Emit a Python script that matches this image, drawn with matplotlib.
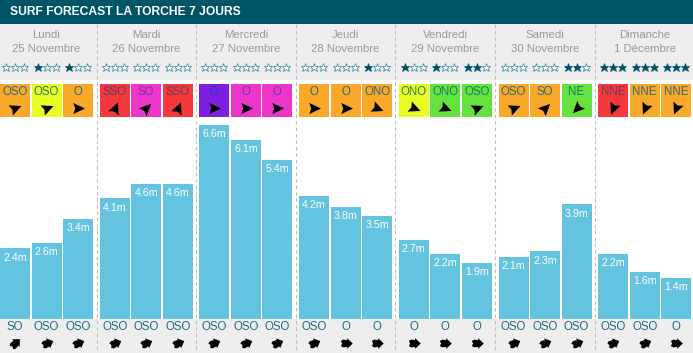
import matplotlib
matplotlib.use("Agg")
import matplotlib.pyplot as plt
from matplotlib.markers import MarkerStyle
from matplotlib.path import Path
from matplotlib.patches import Rectangle
from matplotlib.transforms import Affine2D

plt.rcParams['font.family'] = ['Liberation Sans', 'DejaVu Sans']

TITLE = "SURF FORECAST LA TORCHE 7 JOURS"
days = ["Lundi", "Mardi", "Mercredi", "Jeudi", "Vendredi", "Samedi", "Dimanche"]
dates = ["25 Novembre", "26 Novembre", "27 Novembre", "28 Novembre",
         "29 Novembre", "30 Novembre", "1 Décembre"]
heights = [[2.4, 2.6, 3.4], [4.1, 4.6, 4.6], [6.6, 6.1, 5.4], [4.2, 3.8, 3.5],
           [2.7, 2.2, 1.9], [2.1, 2.3, 3.9], [2.2, 1.6, 1.4]]
wind = [["OSO", "OSO", "O"], ["SSO", "SO", "SSO"], ["O", "O", "O"], ["O", "O", "ONO"],
        ["ONO", "ONO", "OSO"], ["OSO", "SO", "NE"], ["NNE", "NNE", "NNE"]]
wind_force = [["orange", "yellow", "orange"], ["red", "magenta", "red"],
              ["purple", "magenta", "magenta"], ["orange", "orange", "orange"],
              ["yellow", "green", "green"], ["orange", "orange", "green"],
              ["red", "orange", "orange"]]
swell = [["SO", "OSO", "OSO"], ["OSO", "OSO", "OSO"], ["OSO", "OSO", "OSO"], ["OSO", "O", "O"],
         ["O", "O", "O"], ["OSO", "OSO", "OSO"], ["OSO", "OSO", "O"]]
stars = [[0, 1, 1], [0, 0, 0], [0, 0, 0], [0, 0, 1], [1, 1, 2], [0, 0, 2], [3, 3, 3]]

force_colors = {"orange": "#f9a82a", "yellow": "#eafc26", "red": "#f4383c",
                "magenta": "#ee35c9", "purple": "#7d1ee0", "green": "#66e23f"}
label_colors = {"orange": "#2a6a78", "yellow": "#2a7a60", "red": "#6a3a5a",
                "magenta": "#7a2fb0", "purple": "#2a3aa8", "green": "#127a62"}
# direction of travel (degrees counter-clockwise from east) for a "coming from" heading
travel = {"O": 0, "OSO": 22.5, "SO": 45, "SSO": 67.5, "ONO": -22.5, "NE": 225, "NNE": 247.5}

HEAD, GREY, BAR, TEAL, DARK = "#005468", "#eeeeee", "#64c3df", "#1e6a82", "#00536b"
W, H = 693, 353
PX = 0.72

fig = plt.figure(figsize=(W / 100, H / 100), dpi=100, facecolor="white")
ax = fig.add_axes([0, 0, 1, 1])
ax.set_xlim(0, W)
ax.set_ylim(H, 0)
ax.axis("off")

ax.add_patch(Rectangle((0, 0), W, 24, fc=HEAD, ec="none"))
ax.add_patch(Rectangle((0, 24), W, 55.5, fc=GREY, ec="none"))
ax.add_patch(Rectangle((0, 319), W, 34, fc=GREY, ec="none"))
ax.text(10, 12.3, TITLE, color="white", fontsize=8.7, fontweight="bold", va="center", ha="left")

for k in range(6):
    x = 96.6 + 99.6 * k
    ax.plot([x, x], [24, H], color="#bdbdbd", lw=0.8, dashes=(3.2, 2.6), zorder=5)

dart = Path([(1, 0), (-0.8, 0.85), (-0.5, 0), (-0.8, -0.85), (1, 0)], closed=True)
blocky = Path([(1, 0), (0.1, 0.85), (0.1, 0.55), (-0.55, 0.62), (-0.9, 0.4), (-0.7, 0),
               (-0.9, -0.4), (-0.55, -0.62), (0.1, -0.55), (0.1, -0.85), (1, 0)], closed=True)


def arrow(x, y, path, angle, size):
    # markers are drawn in screen space, so the inverted pixel axis does not flip them
    m = MarkerStyle(path, transform=Affine2D().rotate_deg(angle))
    ax.plot([x], [y], marker=m, ms=size * PX, color="black", mew=0, ls="none", zorder=6)


def centre(d, s):
    return 15 + d * 99.7 + s * 31.5


for d in range(7):
    mid = centre(d, 1)
    ax.text(mid, 35.5, days[d], color="#999999", fontsize=8.2, ha="center", va="center")
    ax.text(mid, 48.5, dates[d], color="#999999", fontsize=8.2, ha="center", va="center")
    for s in range(3):
        cx = centre(d, s)
        for j in range(3):
            filled = j < stars[d][s]
            ax.plot([cx - 9 + j * 9], [67.3], marker="*", ms=9.0 * PX, ls="none",
                    mfc=DARK if filled else "white", mec=DARK if filled else "#2c7f96", mew=0.5)
        force = wind_force[d][s]
        ax.add_patch(Rectangle((cx - 15, 84), 30, 33, fc=force_colors[force], ec="none"))
        ax.text(cx, 91.8, wind[d][s], color=label_colors[force], fontsize=8.3, ha="center", va="center")
        arrow(cx, 107.5, dart, travel[wind[d][s]], 13)
        ax.text(cx, 327, swell[d][s], color=TEAL, fontsize=8.3, ha="center", va="center")
        arrow(cx, 342.5, blocky, travel[swell[d][s]], 12.5)

# wave-height bars on their own metre scale, baseline at pixel y=319
bx = fig.add_axes([0, (H - 319) / H, 1, 319 / H], facecolor="none")
bx.set_xlim(0, W)
bx.set_ylim(0, 319 / 29.4)
bx.axis("off")
for d in range(7):
    for s in range(3):
        cx = centre(d, s)
        v = heights[d][s]
        bx.bar(cx, v, width=30, color=BAR, linewidth=0)
        bx.annotate(f"{v}m", (cx, v), xytext=(0, -6.6), textcoords="offset points",
                    color="white", fontsize=7.7, ha="center", va="center")

fig.savefig("out.png", dpi=100)
